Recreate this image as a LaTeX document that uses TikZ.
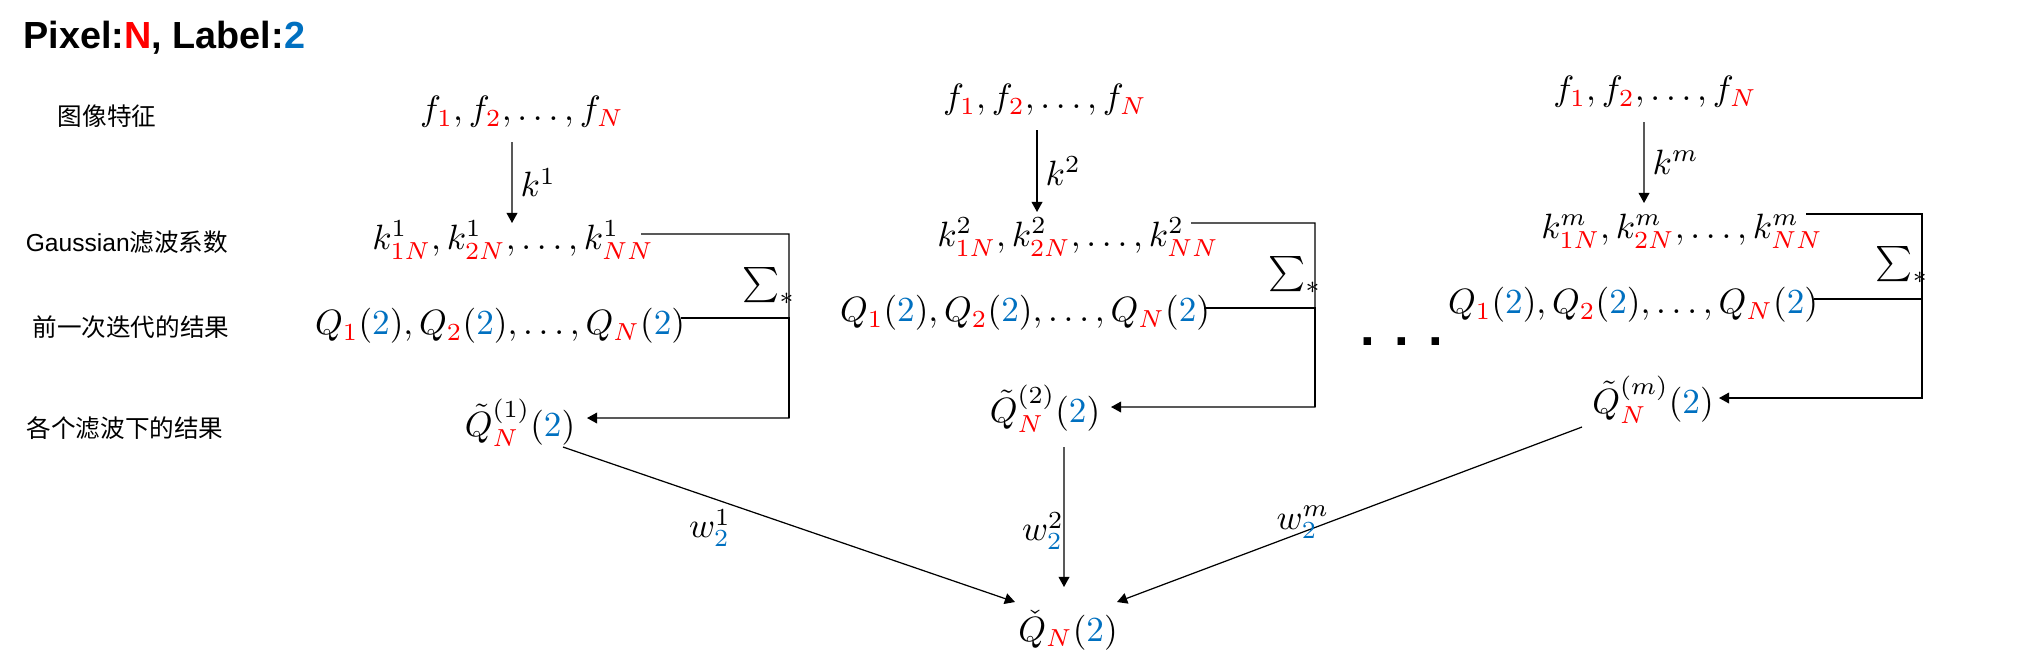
\documentclass[tikz,border=0pt]{standalone}
\usepackage[no-math]{fontspec}
\usepackage{xcolor}
\setsansfont{Liberation Sans}
\newfontfamily\cjk{Noto Sans CJK SC}
\usetikzlibrary{arrows.meta}
\definecolor{pxred}{RGB}{255,0,0}
\definecolor{lbblue}{RGB}{0,112,192}
\newcommand{\rd}[1]{\textcolor{pxred}{#1}}
\newcommand{\bl}[1]{\textcolor{lbblue}{#1}}
\tikzset{
    MT/.style ={inner sep=0pt, font=\fontsize{10}{12}\selectfont},
    LB/.style ={inner sep=0pt, font=\cjk\fontsize{7}{8}\selectfont},
    TT/.style ={inner sep=0pt, font=\sffamily\bfseries\fontsize{10.75}{12}\selectfont},
    KL/.style ={right, inner sep=0.08cm, font=\fontsize{10}{12}\selectfont},
    AR/.style ={-{Triangle[length=2.9pt,width=3.1pt]}, line width=0.35pt}
}

\begin{document}
\begin{tikzpicture}
        \useasboundingbox (0,0) rectangle (20.27,-6.66);
        \node[TT,anchor=west] (title) at (0.23,-0.38) {Pixel:\rd{N}, Label:\bl{2}};
        % row labels
        \node[LB] (L1) at (1.07,-1.16) {图像特征};
        \node[LB] (L2) at (1.27,-2.42) {{\sffamily Gaussian}滤波系数};
        \node[LB] (L3) at (1.31,-3.27) {前一次迭代的结果};
        \node[LB] (L4) at (1.25,-4.28) {各个滤波下的结果};
        % filter 1
        \node[MT] (f1) at (5.22,-1.12) {$f_{\rd1},f_{\rd2}, \ldots, f_{\rd N}$};
        \node[MT] (k1) at (5.13,-2.40) {$k^1_{\rd{1N}}, k^1_{\rd{2N}}, \ldots, k^1_{\rd{NN}}$};
        \node[MT] (q1) at (5.00,-3.26) {$Q_{\rd1}(\bl2),Q_{\rd2}(\bl2), \ldots, Q_{\rd N}(\bl2)$};
        \node[MT] (t1) at (5.20,-4.23) {$\tilde{Q}^{(1)}_{\rd N}(\bl2)$};
        \node[MT] (s1) at (7.69,-2.86) {$\sum_*$};
        \coordinate (c1) at (7.89,-4.18);
        \draw[AR] ([shift={(-0.10,-0.30)}]f1.center) -- ([shift={(-0.01,0.17)}]k1.center) node[KL,midway] {$k^1$};
        \draw[AR] ([shift={(1.28,0.06)}]k1.center) -| (c1) -- ([shift={(0.67,0.05)}]t1.center);
        \draw[line width=0.35pt] ([shift={(1.81,0.08)}]q1.center) -| (c1);
        % filter 2
        \node[MT] (f2) at (10.45,-1.00) {$f_{\rd1},f_{\rd2}, \ldots, f_{\rd N}$};
        \node[MT] (k2) at (10.78,-2.37) {$k^2_{\rd{1N}}, k^2_{\rd{2N}}, \ldots, k^2_{\rd{NN}}$};
        \node[MT] (q2) at (10.25,-3.13) {$Q_{\rd1}(\bl2),Q_{\rd2}(\bl2), \ldots, Q_{\rd N}(\bl2)$};
        \node[MT] (t2) at (10.45,-4.09) {$\tilde{Q}^{(2)}_{\rd N}(\bl2)$};
        \node[MT] (s2) at (12.95,-2.75) {$\sum_*$};
        \coordinate (c2) at (13.15,-4.07);
        \draw[AR] ([shift={(-0.08,-0.30)}]f2.center) -- ([shift={(-0.41,0.25)}]k2.center) node[KL,midway] {$k^2$};
        \draw[AR] ([shift={(1.13,0.14)}]k2.center) -| (c2) -- ([shift={(0.66,0.02)}]t2.center);
        \draw[line width=0.35pt] ([shift={(1.79,0.05)}]q2.center) -| (c2);
        % dots
        \node[font=\sffamily\bfseries\fontsize{15}{18}\selectfont,inner sep=0pt] (dots) at (14.02,-3.42) {. . .};
        % filter m
        \node[MT] (f3) at (16.55,-0.92) {$f_{\rd1},f_{\rd2}, \ldots, f_{\rd N}$};
        \node[MT] (k3) at (16.82,-2.31) {$k^m_{\rd{1N}}, k^m_{\rd{2N}}, \ldots, k^m_{\rd{NN}}$};
        \node[MT] (q3) at (16.33,-3.05) {$Q_{\rd1}(\bl2),Q_{\rd2}(\bl2), \ldots, Q_{\rd N}(\bl2)$};
        \node[MT] (t3) at (16.53,-4.00) {$\tilde{Q}^{(m)}_{\rd N}(\bl2)$};
        \node[MT] (s3) at (19.02,-2.65) {$\sum_*$};
        \coordinate (c3) at (19.22,-3.98);
        \draw[AR] ([shift={(-0.11,-0.30)}]f3.center) -- ([shift={(-0.38,0.28)}]k3.center) node[KL,midway] {$k^m$};
        \draw[AR] ([shift={(1.24,0.17)}]k3.center) -| (c3) -- ([shift={(0.66,0.02)}]t3.center);
        \draw[line width=0.35pt] ([shift={(1.81,0.06)}]q3.center) -| (c3);
        % weighted sum
        \node[MT] (qc) at (10.68,-6.30) {$\check{Q}_{\rd N}(\bl2)$};
        \draw[AR] ([shift={(0.43,-0.24)}]t1.center) -- ([shift={(-0.53,0.28)}]qc.center);
        \draw[AR] ([shift={(0.19,-0.38)}]t2.center) -- ([shift={(-0.04,0.43)}]qc.center);
        \draw[AR] ([shift={(-0.71,-0.27)}]t3.center) -- ([shift={(0.49,0.28)}]qc.center);
        \node[MT] (w1) at (7.10,-5.28) {$w^1_{\bl2}$};
        \node[MT] (w2) at (10.43,-5.31) {$w^2_{\bl2}$};
        \node[MT] (w3) at (13.03,-5.22) {$w^m_{\bl2}$};
\end{tikzpicture}
\end{document}
